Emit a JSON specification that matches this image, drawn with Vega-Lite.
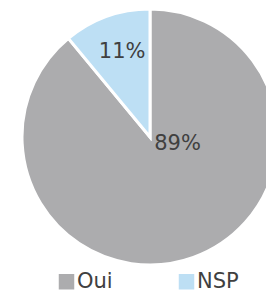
{
  "$schema": "https://vega.github.io/schema/vega-lite/v6.json",
  "width": 300,
  "height": 274,
  "padding": 0,
  "autosize": {"type": "pad"},
  "background": "white",
  "config": {"view": {"stroke": null}, "font": "DejaVu Sans"},
  "data": {"values": [
    {"answer": "Oui", "pct": 89, "label": "89%", "ord": 1},
    {"answer": "NSP", "pct": 11, "label": "11%", "ord": 2}
  ]},
  "encoding": {
    "theta": {"field": "pct", "type": "quantitative", "stack": true},
    "order": {"field": "ord", "type": "quantitative"}
  },
  "layer": [
    {
      "mark": {"type": "arc", "outerRadius": 128, "stroke": "white", "strokeWidth": 3},
      "encoding": {
        "color": {
          "field": "answer", "type": "nominal",
          "scale": {"domain": ["Oui", "NSP"], "range": ["#acacae", "#bddff4"]},
          "legend": {
            "orient": "none", "direction": "horizontal", "legendX": 56, "legendY": 271,
            "title": null, "symbolType": "square", "symbolSize": 240, "symbolStrokeWidth": 0,
            "labelFontSize": 21, "labelColor": "#404040", "labelFont": "DejaVu Sans",
            "labelOffset": 0, "columnPadding": 63
          }
        }
      }
    },
    {
      "mark": {"type": "text", "radius": 91, "dx": 3, "dy": 1, "fontSize": 21, "fill": "#404040", "baseline": "middle", "align": "center"},
      "encoding": {"text": {"condition": {"test": "datum.answer == 'NSP'", "field": "label"}, "value": ""}}
    },
    {
      "mark": {"type": "text", "radius": 0, "dx": 27.5, "dy": 7, "fontSize": 21, "fill": "#404040", "baseline": "middle", "align": "center"},
      "encoding": {"text": {"condition": {"test": "datum.answer == 'Oui'", "field": "label"}, "value": ""}}
    }
  ]
}
